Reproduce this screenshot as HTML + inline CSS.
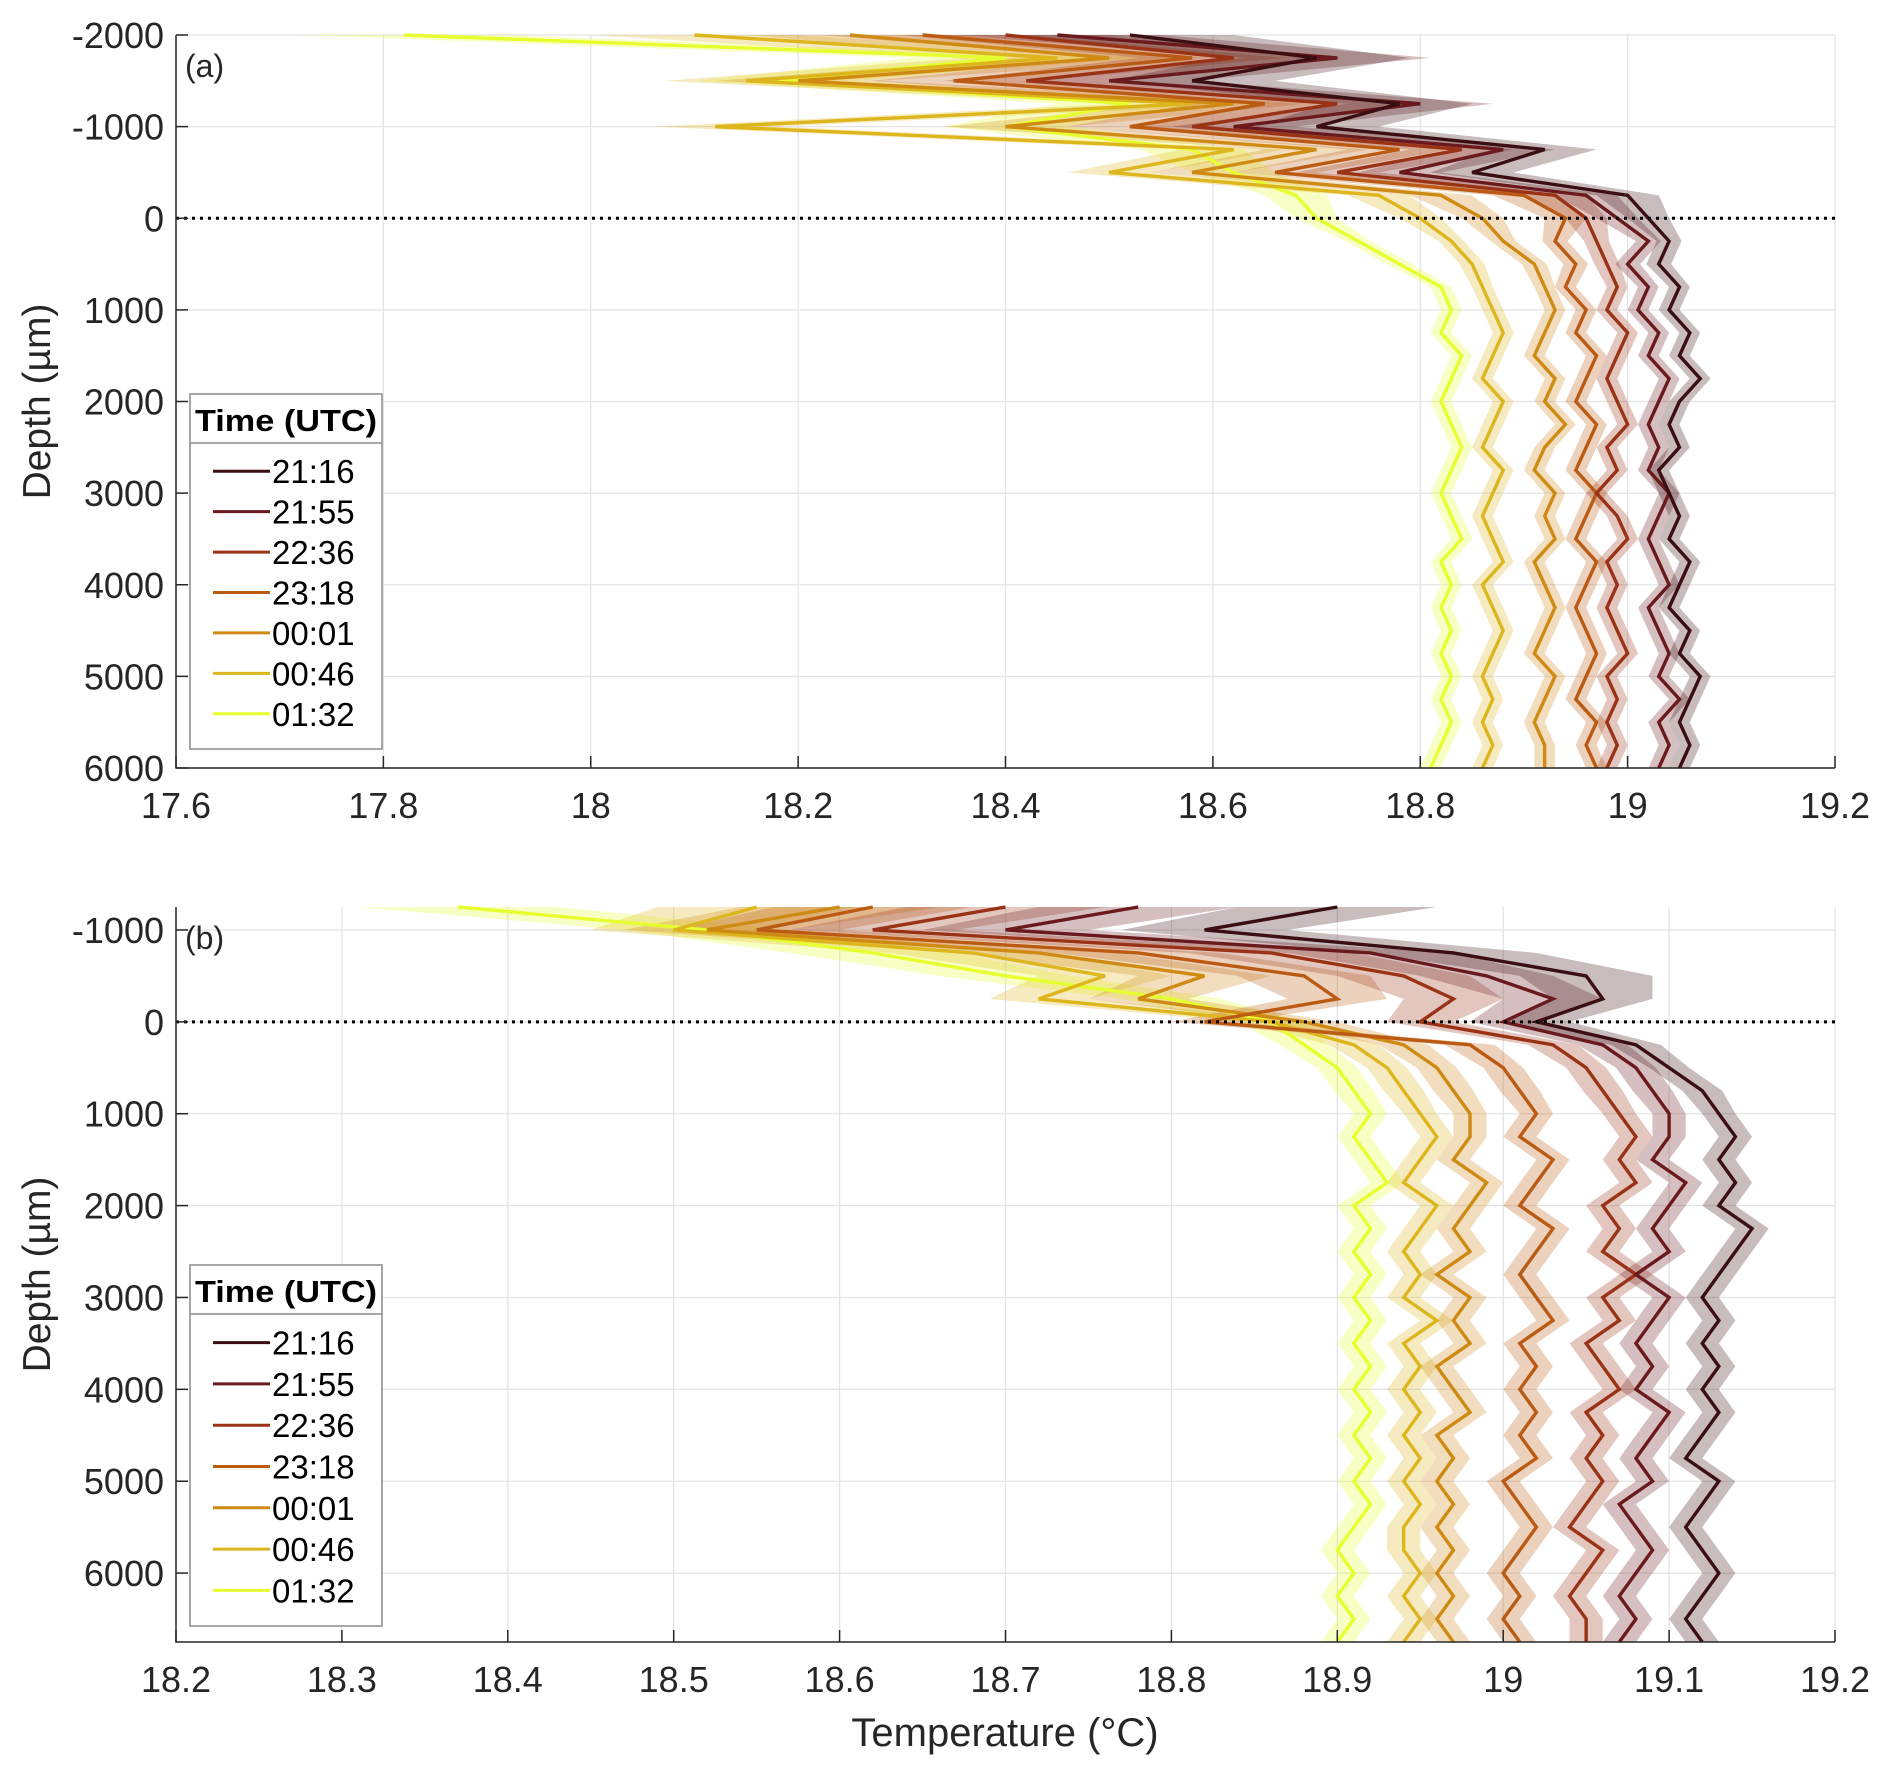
<!DOCTYPE html>
<html><head><meta charset="utf-8"><style>
html,body{margin:0;padding:0;background:#fff}
svg{display:block;font-family:"Liberation Sans",Arial,sans-serif}
</style></head><body>
<svg id="chart" width="1892" height="1773" viewBox="0 0 1892 1773" xmlns="http://www.w3.org/2000/svg"></svg>
<script>
const seriesNames=["21:16","21:55","22:36","23:18","00:01","00:46","01:32"];
const seriesColors=["#3a0e12","#6a1a1c","#9a3216","#bb5a12","#cf8a14","#ddb61e","#e6ff2e"];
const depthA=[-2000,-1750,-1500,-1250,-1000,-750,-500,-250,0,250,500,750,1000,1250,1500,1750,2000,2250,2500,2750,3000,3250,3500,3750,4000,4250,4500,4750,5000,5250,5500,5750,6000];
const tempA0=[18.52,18.70,18.58,18.78,18.70,18.92,18.85,19.00,19.02,19.04,19.03,19.05,19.04,19.06,19.05,19.07,19.05,19.04,19.05,19.03,19.04,19.05,19.04,19.06,19.05,19.04,19.06,19.05,19.07,19.06,19.05,19.06,19.05];
const tempA1=[18.45,18.72,18.50,18.80,18.62,18.88,18.78,18.96,18.99,19.02,19.00,19.02,19.01,19.03,19.02,19.04,19.03,19.02,19.03,19.02,19.04,19.03,19.02,19.03,19.04,19.02,19.03,19.04,19.03,19.05,19.03,19.04,19.03];
const tempA2=[18.40,18.62,18.42,18.72,18.58,18.84,18.72,18.93,18.96,18.97,18.98,18.99,18.98,19.00,18.99,18.98,18.99,19.00,18.98,18.99,18.97,18.99,19.00,18.98,18.99,18.98,18.99,19.00,18.98,18.99,18.98,18.99,18.98];
const tempA3=[18.32,18.58,18.35,18.65,18.52,18.78,18.66,18.90,18.94,18.93,18.95,18.94,18.96,18.95,18.97,18.96,18.95,18.97,18.96,18.95,18.97,18.96,18.95,18.97,18.96,18.95,18.96,18.97,18.96,18.95,18.97,18.96,18.97];
const tempA4=[18.25,18.50,18.20,18.62,18.40,18.70,18.58,18.82,18.86,18.88,18.91,18.92,18.93,18.92,18.91,18.93,18.92,18.94,18.92,18.91,18.93,18.92,18.93,18.91,18.92,18.93,18.92,18.91,18.93,18.92,18.91,18.92,18.92];
const tempA5=[18.10,18.45,18.15,18.58,18.12,18.62,18.50,18.76,18.80,18.83,18.85,18.86,18.87,18.88,18.87,18.86,18.88,18.87,18.86,18.88,18.87,18.86,18.87,18.88,18.86,18.87,18.88,18.87,18.86,18.87,18.86,18.87,18.86];
const tempA6=[17.82,18.40,18.18,18.52,18.40,18.58,18.62,18.68,18.70,18.74,18.78,18.82,18.83,18.82,18.84,18.83,18.82,18.83,18.84,18.83,18.82,18.83,18.84,18.82,18.83,18.82,18.83,18.82,18.83,18.82,18.83,18.82,18.81];
const spreadA=[0.10,0.09,0.08,0.07,0.06,0.05,0.04,0.03,0.02,0.012,0.012,0.01,0.01,0.01,0.01,0.01,0.01,0.01,0.01,0.01,0.01,0.01,0.01,0.01,0.01,0.01,0.01,0.01,0.01,0.01,0.01,0.01,0.01];
const depthB=[-1250,-1000,-750,-500,-250,0,250,500,750,1000,1250,1500,1750,2000,2250,2500,2750,3000,3250,3500,3750,4000,4250,4500,4750,5000,5250,5500,5750,6000,6250,6500,6750];
const tempB0=[18.90,18.82,18.97,19.05,19.06,19.02,19.08,19.10,19.12,19.13,19.14,19.13,19.14,19.13,19.15,19.14,19.13,19.12,19.13,19.12,19.13,19.12,19.13,19.12,19.11,19.13,19.12,19.11,19.12,19.13,19.12,19.11,19.12];
const tempB1=[18.78,18.70,18.92,18.99,19.03,19.00,19.06,19.08,19.09,19.10,19.10,19.09,19.11,19.10,19.09,19.10,19.08,19.10,19.09,19.08,19.09,19.08,19.10,19.09,19.08,19.09,19.07,19.08,19.09,19.08,19.07,19.08,19.07];
const tempB2=[18.70,18.62,18.86,18.94,18.97,18.95,19.03,19.05,19.06,19.07,19.08,19.07,19.08,19.06,19.07,19.06,19.08,19.06,19.07,19.05,19.06,19.07,19.05,19.06,19.05,19.06,19.05,19.04,19.06,19.05,19.04,19.05,19.05];
const tempB3=[18.62,18.55,18.78,18.88,18.90,18.82,18.98,19.00,19.01,19.02,19.01,19.03,19.02,19.01,19.03,19.02,19.01,19.02,19.03,19.01,19.02,19.01,19.02,19.01,19.02,19.00,19.01,19.02,19.01,19.00,19.01,19.00,19.01];
const tempB4=[18.60,18.52,18.72,18.82,18.78,18.88,18.94,18.96,18.97,18.98,18.98,18.97,18.99,18.98,18.97,18.98,18.96,18.98,18.97,18.98,18.96,18.97,18.98,18.96,18.97,18.96,18.97,18.96,18.97,18.96,18.97,18.96,18.97];
const tempB5=[18.55,18.50,18.68,18.76,18.72,18.86,18.91,18.93,18.94,18.95,18.96,18.95,18.94,18.96,18.95,18.94,18.95,18.94,18.96,18.94,18.95,18.94,18.95,18.94,18.95,18.94,18.95,18.94,18.94,18.95,18.94,18.95,18.94];
const tempB6=[18.37,18.52,18.62,18.70,18.80,18.86,18.88,18.90,18.91,18.92,18.91,18.92,18.93,18.91,18.92,18.91,18.92,18.91,18.92,18.91,18.92,18.91,18.92,18.91,18.92,18.91,18.92,18.91,18.90,18.91,18.90,18.91,18.90];
const spreadB=[0.06,0.05,0.05,0.04,0.03,0.02,0.015,0.012,0.012,0.01,0.01,0.01,0.01,0.01,0.01,0.01,0.01,0.01,0.01,0.01,0.01,0.01,0.01,0.01,0.01,0.01,0.01,0.01,0.01,0.01,0.01,0.01,0.01];
const xTicksA=[17.6,17.8,18,18.2,18.4,18.6,18.8,19,19.2];
const yTicksA=[-2000,-1000,0,1000,2000,3000,4000,5000,6000];
const xTicksB=[18.2,18.3,18.4,18.5,18.6,18.7,18.8,18.9,19,19.1,19.2];
const yTicksB=[-1000,0,1000,2000,3000,4000,5000,6000];

const NS="http://www.w3.org/2000/svg";
const svg=document.getElementById('chart');
function mk(tag,attrs,parent){const e=document.createElementNS(NS,tag);for(const k in attrs)e.setAttribute(k,attrs[k]);(parent||svg).appendChild(e);return e;}

function panel(cfg){
  const {L,R,T,B,xmin,xmax,ymin,ymax,xt,yt,depth,temps,spread,label,legY,legH,key}=cfg;
  const g=mk('g',{});
  
  
  const X=v=>L+(v-xmin)/(xmax-xmin)*(R-L);
  const Y=v=>T+(v-ymin)/(ymax-ymin)*(B-T);
  xt.forEach(v=>{const l=mk('line',{x1:X(v),x2:X(v),y1:T,y2:B,stroke:'#e4e4e4','stroke-width':1.3},g);});
  yt.forEach(v=>{const l=mk('line',{x1:L,x2:R,y1:Y(v),y2:Y(v),stroke:'#e4e4e4','stroke-width':1.3},g);});
  for(let s=temps.length-1;s>=0;s--){
    const t=temps[s];let up=[],dn=[];
    for(let i=0;i<depth.length;i++){up.push(X(t[i]+spread[i])+','+Y(depth[i]));dn.unshift(X(t[i]-spread[i])+','+Y(depth[i]));}
    const p=mk('polygon',{points:up.concat(dn).join(' '),fill:seriesColors[s],'fill-opacity':0.28,stroke:'none'},g);
    
    
  }
  for(let s=temps.length-1;s>=0;s--){
    const t=temps[s];const pts=depth.map((d,i)=>X(t[i])+','+Y(d)).join(' ');
    const pl=mk('polyline',{points:pts,fill:'none',stroke:seriesColors[s],'stroke-width':3.4,'stroke-linejoin':'miter'},g);
    
    
  }
  const z=mk('line',{x1:L,x2:R,y1:Y(0),y2:Y(0),stroke:'#000','stroke-width':3,'stroke-dasharray':'3 5'},g);
  
  const ax=mk('path',{d:`M${L},${T}V${B}H${R}`,fill:'none',stroke:'#262626','stroke-width':1.5},g);
  
  xt.forEach(v=>{mk('line',{x1:X(v),x2:X(v),y1:B,y2:B-12,stroke:'#262626','stroke-width':1.5},g);
    const t=mk('text',{x:X(v),y:B+50,'text-anchor':'middle','font-size':36,fill:'#262626'},g);t.textContent=v;
    });
  yt.forEach(v=>{mk('line',{x1:L,x2:L+12,y1:Y(v),y2:Y(v),stroke:'#262626','stroke-width':1.5},g);
    const t=mk('text',{x:L-12,y:Y(v)+13,'text-anchor':'end','font-size':36,fill:'#262626'},g);t.textContent=v;
    });
  const yl=mk('text',{x:0,y:0,transform:`translate(50,${(T+B)/2}) rotate(-90)`,'text-anchor':'middle','font-size':39,fill:'#262626'},g);
  yl.textContent='Depth (µm)';
  const pl=mk('text',{x:L+9,y:T+42,'font-size':32,fill:'#262626'},g);pl.textContent=label;
  
  const lg=mk('g',{},g);
  const lx=190,lw=192;
  mk('rect',{x:lx,y:legY,width:lw,height:legH,fill:'#fff',stroke:'#8a8a8a','stroke-width':1.5},lg);
  mk('line',{x1:lx,x2:lx+lw,y1:legY+49,y2:legY+49,stroke:'#8a8a8a','stroke-width':1.5},lg);
  const tt=mk('text',{x:lx+5,y:legY+37,'font-size':31,'font-weight':'bold',fill:'#000','textLength':182,'lengthAdjust':'spacingAndGlyphs'},lg);tt.textContent='Time (UTC)';
  
  const step=(legH-72)/7;
  seriesNames.forEach((n,i)=>{const yy=legY+49+step*(i+0.5)+8;
    const e=mk('g',{},lg);
    mk('line',{x1:lx+23,x2:lx+80,y1:yy,y2:yy,stroke:seriesColors[i],'stroke-width':3},e);
    const t=mk('text',{x:lx+82,y:yy+12,'font-size':33,fill:'#000'},e);t.textContent=n;});
}
panel({key:'a',L:176,R:1835,T:35,B:768,xmin:17.6,xmax:19.2,ymin:-2000,ymax:6000,xt:xTicksA,yt:yTicksA,depth:depthA,
  temps:[tempA0,tempA1,tempA2,tempA3,tempA4,tempA5,tempA6],spread:spreadA,label:'(a)',legY:394,legH:355});
panel({key:'b',L:176,R:1835,T:907,B:1642,xmin:18.2,xmax:19.2,ymin:-1250,ymax:6750,xt:xTicksB,yt:yTicksB,depth:depthB,
  temps:[tempB0,tempB1,tempB2,tempB3,tempB4,tempB5,tempB6],spread:spreadB,label:'(b)',legY:1265,legH:361});
const xl=mk('text',{x:1005,y:1746,'text-anchor':'middle','font-size':40,fill:'#262626'});
xl.textContent='Temperature (°C)';


</script>
</body></html>
